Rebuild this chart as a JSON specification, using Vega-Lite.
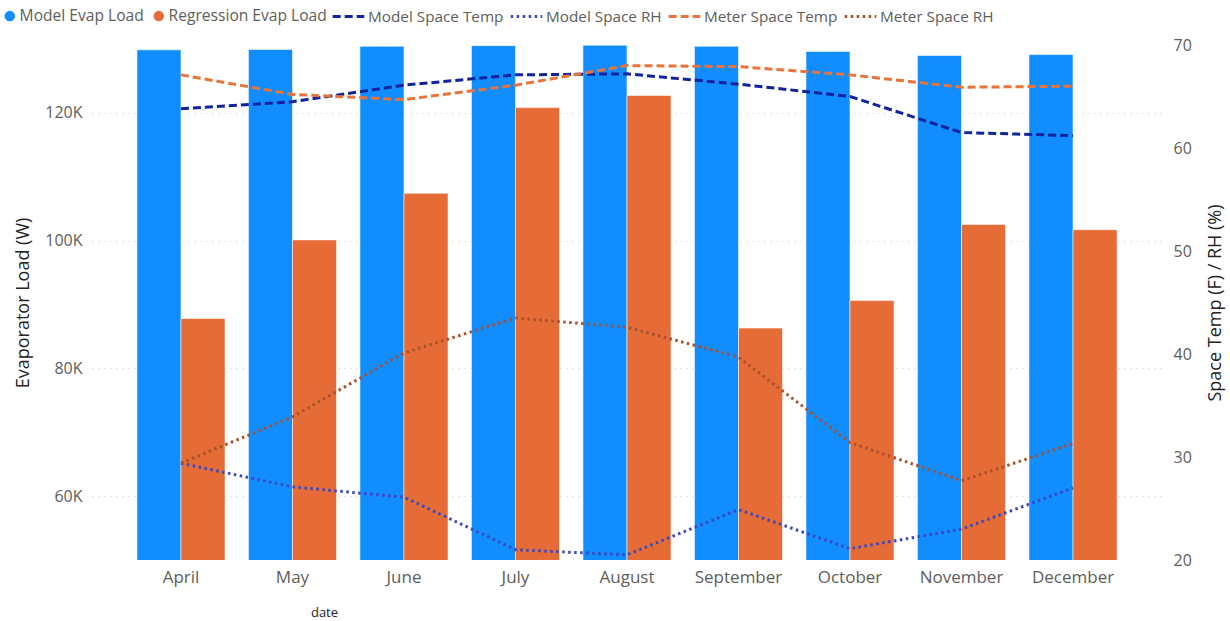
{
  "$schema": "https://vega.github.io/schema/vega-lite/v6.json",
  "width": 1070,
  "height": 515,
  "autosize": {"type": "none"},
  "padding": {"left": 92, "top": 45, "right": 68, "bottom": 61},
  "background": "white",
  "config": {
    "font": "Open Sans",
    "view": {"stroke": null},
    "axis": {"labelFont": "Open Sans", "titleFont": "Open Sans"},
    "legend": {"labelFont": "Open Sans"}
  },
  "datasets": {
    "loads": [
      {"month": "April", "series": "Model Evap Load", "watts": 129840},
      {"month": "April", "series": "Regression Evap Load", "watts": 87800},
      {"month": "May", "series": "Model Evap Load", "watts": 129900},
      {"month": "May", "series": "Regression Evap Load", "watts": 100100},
      {"month": "June", "series": "Model Evap Load", "watts": 130400},
      {"month": "June", "series": "Regression Evap Load", "watts": 107400},
      {"month": "July", "series": "Model Evap Load", "watts": 130500},
      {"month": "July", "series": "Regression Evap Load", "watts": 120800},
      {"month": "August", "series": "Model Evap Load", "watts": 130560},
      {"month": "August", "series": "Regression Evap Load", "watts": 122700},
      {"month": "September", "series": "Model Evap Load", "watts": 130400},
      {"month": "September", "series": "Regression Evap Load", "watts": 86300},
      {"month": "October", "series": "Model Evap Load", "watts": 129600},
      {"month": "October", "series": "Regression Evap Load", "watts": 90600},
      {"month": "November", "series": "Model Evap Load", "watts": 128950},
      {"month": "November", "series": "Regression Evap Load", "watts": 102500},
      {"month": "December", "series": "Model Evap Load", "watts": 129100},
      {"month": "December", "series": "Regression Evap Load", "watts": 101700}
    ],
    "conditions": [
      {"month": "April", "series": "Model Space Temp", "value": 63.8},
      {"month": "May", "series": "Model Space Temp", "value": 64.5},
      {"month": "June", "series": "Model Space Temp", "value": 66.1},
      {"month": "July", "series": "Model Space Temp", "value": 67.1},
      {"month": "August", "series": "Model Space Temp", "value": 67.2},
      {"month": "September", "series": "Model Space Temp", "value": 66.2},
      {"month": "October", "series": "Model Space Temp", "value": 65.0},
      {"month": "November", "series": "Model Space Temp", "value": 61.5},
      {"month": "December", "series": "Model Space Temp", "value": 61.2},
      {"month": "April", "series": "Model Space RH", "value": 29.4},
      {"month": "May", "series": "Model Space RH", "value": 27.1},
      {"month": "June", "series": "Model Space RH", "value": 26.1},
      {"month": "July", "series": "Model Space RH", "value": 21.0},
      {"month": "August", "series": "Model Space RH", "value": 20.5},
      {"month": "September", "series": "Model Space RH", "value": 24.9},
      {"month": "October", "series": "Model Space RH", "value": 21.1},
      {"month": "November", "series": "Model Space RH", "value": 23.0},
      {"month": "December", "series": "Model Space RH", "value": 27.0},
      {"month": "April", "series": "Meter Space Temp", "value": 67.1},
      {"month": "May", "series": "Meter Space Temp", "value": 65.2},
      {"month": "June", "series": "Meter Space Temp", "value": 64.7},
      {"month": "July", "series": "Meter Space Temp", "value": 66.1},
      {"month": "August", "series": "Meter Space Temp", "value": 68.0},
      {"month": "September", "series": "Meter Space Temp", "value": 67.9},
      {"month": "October", "series": "Meter Space Temp", "value": 67.1},
      {"month": "November", "series": "Meter Space Temp", "value": 65.9},
      {"month": "December", "series": "Meter Space Temp", "value": 66.0},
      {"month": "April", "series": "Meter Space RH", "value": 29.4},
      {"month": "May", "series": "Meter Space RH", "value": 33.9},
      {"month": "June", "series": "Meter Space RH", "value": 40.1},
      {"month": "July", "series": "Meter Space RH", "value": 43.5},
      {"month": "August", "series": "Meter Space RH", "value": 42.6},
      {"month": "September", "series": "Meter Space RH", "value": 39.7},
      {"month": "October", "series": "Meter Space RH", "value": 31.4},
      {"month": "November", "series": "Meter Space RH", "value": 27.7},
      {"month": "December", "series": "Meter Space RH", "value": 31.3}
    ]
  },
  "encoding": {
    "x": {
      "field": "month",
      "type": "nominal",
      "sort": ["April", "May", "June", "July", "August", "September", "October", "November", "December"],
      "scale": {"paddingInner": 0.21, "paddingOuter": 0.403},
      "axis": {
        "title": "date",
        "titleFontSize": 13,
        "titleFontWeight": "normal",
        "titleColor": "#252423",
        "titleX": 232,
        "titleY": 52,
        "titleAnchor": "middle",
        "titleBaseline": "middle",
        "labelAngle": 0,
        "labelFontSize": 17,
        "labelColor": "#605E5C",
        "labelPadding": 9,
        "ticks": false,
        "domain": false
      }
    }
  },
  "layer": [
    {
      "data": {"name": "loads"},
      "mark": {"type": "bar", "clip": true, "stroke": "white", "strokeOpacity": 0.55, "strokeWidth": 1},
      "encoding": {
        "xOffset": {
          "field": "series",
          "type": "nominal",
          "sort": ["Model Evap Load", "Regression Evap Load"],
          "scale": {"paddingInner": 0, "paddingOuter": 0}
        },
        "y": {
          "field": "watts",
          "type": "quantitative",
          "scale": {"domain": [50000, 130600], "nice": false, "zero": false},
          "axis": {
            "orient": "left",
            "title": "Evaporator Load (W)",
            "titleFontSize": 18,
            "titleFontWeight": "normal",
            "titleColor": "#252423",
            "titlePadding": 12,
            "values": [60000, 80000, 100000, 120000],
            "labelExpr": "datum.value / 1000 + 'K'",
            "labelFontSize": 16,
            "labelColor": "#605E5C",
            "labelPadding": 10,
            "ticks": false,
            "domain": false,
            "grid": true,
            "gridColor": "#C8C6C4",
            "gridDash": [1, 5],
            "gridWidth": 1
          }
        },
        "fill": {
          "field": "series",
          "type": "nominal",
          "scale": {
            "domain": ["Model Evap Load", "Regression Evap Load"],
            "range": ["#118DFF", "#E66C37"]
          },
          "legend": {
            "title": null,
            "orient": "none",
            "legendX": -90,
            "legendY": -37,
            "direction": "horizontal",
            "symbolType": "circle",
            "symbolSize": 110,
            "symbolStrokeWidth": 0,
            "labelFontSize": 15.6,
            "labelColor": "#605E5C",
            "labelOffset": 2,
            "columnPadding": 7
          }
        }
      }
    },
    {
      "data": {"name": "conditions"},
      "mark": {"type": "line", "strokeWidth": 3, "strokeCap": "butt"},
      "encoding": {
        "y": {
          "field": "value",
          "type": "quantitative",
          "scale": {"domain": [20, 70], "nice": false, "zero": false},
          "axis": {
            "orient": "right",
            "title": "Space Temp (F) / RH (%)",
            "titleAngle": 270,
            "titleFontSize": 18,
            "titleFontWeight": "normal",
            "titleColor": "#252423",
            "titlePadding": 33,
            "values": [20, 30, 40, 50, 60, 70],
            "labelFontSize": 16,
            "labelColor": "#605E5C",
            "labelPadding": 11,
            "ticks": false,
            "domain": false,
            "grid": false
          }
        },
        "stroke": {
          "field": "series",
          "type": "nominal",
          "scale": {
            "domain": ["Model Space Temp", "Model Space RH", "Meter Space Temp", "Meter Space RH"],
            "range": ["#12239E", "#3D47BE", "#E8743B", "#A9512B"]
          },
          "legend": {
            "title": null,
            "orient": "none",
            "legendX": 239,
            "legendY": -46,
            "direction": "horizontal",
            "symbolType": "stroke",
            "symbolSize": 1000,
            "symbolStrokeWidth": 3,
            "labelFontSize": 15.3,
            "labelColor": "#605E5C",
            "labelOffset": 2,
            "columnPadding": 0
          }
        },
        "strokeDash": {
          "field": "series",
          "type": "nominal",
          "scale": {
            "domain": ["Model Space Temp", "Model Space RH", "Meter Space Temp", "Meter Space RH"],
            "range": [[8, 4], [2.5, 3.5], [8, 4], [2.5, 3.5]]
          },
          "legend": {
            "title": null,
            "orient": "none",
            "legendX": 239,
            "legendY": -46,
            "direction": "horizontal",
            "symbolType": "stroke",
            "symbolSize": 1000,
            "symbolStrokeWidth": 3,
            "labelFontSize": 15.3,
            "labelColor": "#605E5C",
            "labelOffset": 2,
            "columnPadding": 0
          }
        }
      }
    }
  ],
  "resolve": {"scale": {"y": "independent"}}
}
